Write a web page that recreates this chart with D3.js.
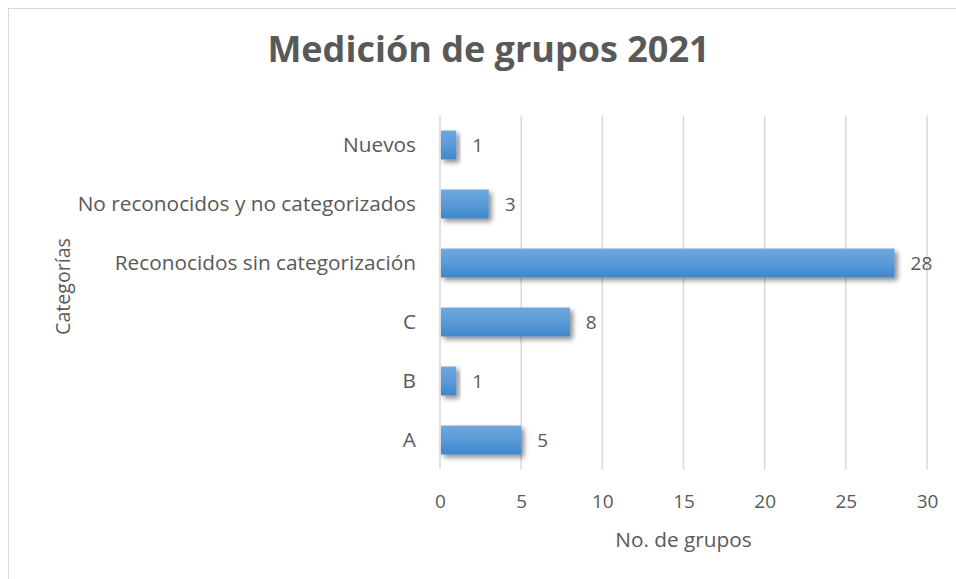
<!DOCTYPE html>
<html>
<head>
<meta charset="utf-8">
<script src="https://cdn.jsdelivr.net/npm/d3@7"></script>
<style>
  body { margin: 0; background: #fff; }
  text { font-family: "Open Sans", sans-serif; fill: #595959; }
</style>
</head>
<body>
<div id="chart"></div>
<script>
// data (top to bottom, as drawn)
const categories = ['Nuevos', 'No reconocidos y no categorizados', 'Reconocidos sin categorización', 'C', 'B', 'A'];
const values = [1, 3, 28, 8, 1, 5];
const xTicks = [0, 5, 10, 15, 20, 25, 30];
const title = 'Medición de grupos 2021';
const xTitle = 'No. de grupos';
const yTitle = 'Categorías';

const width = 956;
const height = 579;
const margin = {top: 115.5, right: 29, bottom: 109.5, left: 440};

const svg = d3.select('#chart')
  .append('svg')
  .attr('width', width)
  .attr('height', height);

const defs = svg.append('defs');
const grad = defs.append('linearGradient')
  .attr('id', 'barGrad')
  .attr('x1', 0).attr('y1', 0).attr('x2', 0).attr('y2', 1);
grad.append('stop').attr('offset', '0%').attr('stop-color', '#6fa7dd');
grad.append('stop').attr('offset', '50%').attr('stop-color', '#5a9ad8');
grad.append('stop').attr('offset', '100%').attr('stop-color', '#3f86cb');

const shadow = defs.append('filter')
  .attr('id', 'shadow')
  .attr('x', '-20%').attr('y', '-30%').attr('width', '150%').attr('height', '180%');
shadow.append('feDropShadow')
  .attr('dx', 3).attr('dy', 3)
  .attr('stdDeviation', 2.5)
  .attr('flood-color', '#000')
  .attr('flood-opacity', 0.45);

// chart area border (only top/left visible in the crop)
svg.append('rect')
  .attr('x', 8.5).attr('y', 8.5)
  .attr('width', 1000).attr('height', 700)
  .attr('fill', 'none')
  .attr('stroke', '#d9d9d9');

const x = d3.scaleLinear()
  .domain([0, 30])
  .range([margin.left, width - margin.right]);

const y = d3.scaleBand()
  .domain(categories)
  .range([margin.top, height - margin.bottom])
  .paddingInner(0.51)
  .paddingOuter(0.255);

// gridlines
svg.append('g')
  .selectAll('line')
  .data(xTicks)
  .join('line')
  .attr('x1', d => x(d)).attr('x2', d => x(d))
  .attr('y1', margin.top).attr('y2', height - margin.bottom)
  .attr('stroke', '#d9d9d9')
  .attr('stroke-width', 1.5);

// x axis labels
const xAxis = svg.append('g')
  .attr('transform', `translate(0,${height - margin.bottom})`)
  .call(d3.axisBottom(x).tickValues(xTicks).tickSize(0).tickPadding(25));
xAxis.select('.domain').remove();
xAxis.attr('font-family', null).attr('font-size', 19);
xAxis.selectAll('text').attr('fill', '#595959');

// y axis labels
const yAxis = svg.append('g')
  .attr('transform', `translate(${margin.left},0)`)
  .call(d3.axisLeft(y).tickSize(0).tickPadding(24));
yAxis.select('.domain').remove();
yAxis.attr('font-family', null).attr('font-size', 20.8);
yAxis.selectAll('text').attr('fill', '#595959');

// bars
svg.append('g')
  .selectAll('rect')
  .data(categories)
  .join('rect')
  .attr('x', x(0) + 1)
  .attr('y', d => y(d))
  .attr('width', (d, i) => x(values[i]) - x(0) - 1)
  .attr('height', y.bandwidth())
  .attr('fill', 'url(#barGrad)')
  .attr('filter', 'url(#shadow)');

// value labels
svg.append('g')
  .selectAll('text')
  .data(categories)
  .join('text')
  .attr('x', (d, i) => x(values[i]) + 16)
  .attr('y', d => y(d) + y.bandwidth() / 2)
  .attr('dy', '0.36em')
  .attr('font-size', 19)
  .text((d, i) => values[i]);

// titles
svg.append('text')
  .attr('x', 488.5)
  .attr('y', 62)
  .attr('text-anchor', 'middle')
  .attr('font-size', 36)
  .attr('font-weight', 'bold')
  .text(title);

svg.append('text')
  .attr('x', x(15))
  .attr('y', 547)
  .attr('text-anchor', 'middle')
  .attr('font-size', 20.8)
  .text(xTitle);

svg.append('text')
  .attr('transform', `translate(70,286.5) rotate(-90)`)
  .attr('text-anchor', 'middle')
  .attr('font-size', 19.6)
  .text(yTitle);
</script>
</body>
</html>
